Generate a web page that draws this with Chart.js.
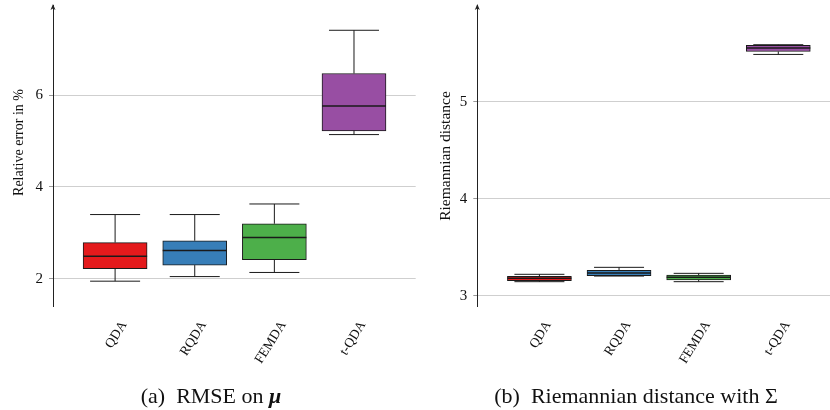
<!DOCTYPE html>
<html>
<head>
<meta charset="utf-8">
<script src="https://cdn.jsdelivr.net/npm/chart.js@4.4.0/dist/chart.umd.min.js"></script>
<style>
  body { margin: 0; width: 830px; height: 410px; overflow: hidden; background: #fff; position: relative; font-family: 'Liberation Serif', serif; }
  .wrap { position: absolute; top: 0; width: 420px; height: 410px; }
  #wrapA { left: 0; }
  #wrapB { left: 420px; }
  .cap { position: absolute; top: 385px; font-size: 22px; line-height: 22px; color: #111; white-space: nowrap; transform: translateX(-50%); }
  .cap .gap { display: inline-block; width: 11px; }
</style>
</head>
<body>
<div class="wrap" id="wrapA"><canvas id="chartA" width="420" height="410"></canvas></div>
<div class="wrap" id="wrapB"><canvas id="chartB" width="420" height="410"></canvas></div>
<div class="cap" style="left:211px">(a)<span class="gap"></span>RMSE on <b><i>μ</i></b></div>
<div class="cap" style="left:636px">(b)<span class="gap"></span>Riemannian distance with Σ</div>

<script>
const categories = ['QDA', 'RQDA', 'FEMDA', 't-QDA'];

// (a) RMSE on mu - relative error in %
const rmseLow  = [1.95, 2.05, 2.14, 5.14];
const rmseQ1   = [2.22, 2.30, 2.42, 5.22];
const rmseMed  = [2.49, 2.62, 2.90, 5.76];
const rmseQ3   = [2.79, 2.83, 3.20, 6.47];
const rmseHigh = [3.40, 3.40, 3.63, 7.41];
const rmseTicks = [2, 4, 6];

// (b) Riemannian distance with Sigma
const riemLow  = [3.145, 3.203, 3.145, 5.49];
const riemQ1   = [3.155, 3.206, 3.162, 5.52];
const riemMed  = [3.18, 3.234, 3.19, 5.555];
const riemQ3   = [3.20, 3.262, 3.213, 5.585];
const riemHigh = [3.221, 3.293, 3.231, 5.59];
const riemTicks = [3, 4, 5];

const boxColors = ['#e41a1c', '#377eb8', '#4daf4a', '#984ea3'];
const serif = "'Liberation Serif', 'Times New Roman', serif";

// whiskers + median on top of the floating bars
const whiskerPlugin = {
    id: 'boxWhiskers',
    afterDatasetsDraw(chart, args, opts) {
        const ctx = chart.ctx;
        const y = chart.scales.y;
        const bars = chart.getDatasetMeta(0).data;
        const line = (x1, y1, x2, y2) => { ctx.beginPath(); ctx.moveTo(x1, y1); ctx.lineTo(x2, y2); ctx.stroke(); };
        ctx.save();
        ctx.strokeStyle = '#1a1a1a';
        bars.forEach((bar, i) => {
            const cx = bar.x;
            const half = bar.width / 2;
            const yLo = y.getPixelForValue(opts.low[i]);
            const yQ1 = y.getPixelForValue(opts.q1[i]);
            const yMed = y.getPixelForValue(opts.med[i]);
            const yQ3 = y.getPixelForValue(opts.q3[i]);
            const yHi = y.getPixelForValue(opts.high[i]);
            ctx.lineWidth = 1;
            line(cx, yQ3, cx, yHi);
            line(cx, yQ1, cx, yLo);
            line(cx - 25, yHi, cx + 25, yHi);
            line(cx - 25, yLo, cx + 25, yLo);
            ctx.lineWidth = 1.5;
            line(cx - half, yMed, cx + half, yMed);
        });
        ctx.restore();
    }
};

// arrow head on the y axis + rotated y title
const axisDeco = {
    id: 'axisDeco',
    afterDraw(chart, args, opts) {
        const ctx = chart.ctx;
        const x = chart.chartArea.left;
        const top = chart.chartArea.top;
        ctx.save();
        ctx.fillStyle = '#222';
        ctx.beginPath();
        ctx.moveTo(x, top - 1);
        ctx.lineTo(x - 2.5, top + 5);
        ctx.lineTo(x, top + 3.5);
        ctx.lineTo(x + 2.5, top + 5);
        ctx.closePath();
        ctx.fill();

        ctx.translate(opts.x, opts.y);
        ctx.rotate(-Math.PI / 2);
        ctx.fillStyle = '#111';
        ctx.font = opts.size + 'px ' + serif;
        ctx.textAlign = 'center';
        ctx.textBaseline = 'middle';
        ctx.fillText(opts.text, 0, 0);
        ctx.restore();
    }
};

function makeChart(id, low, q1, med, q3, high, ticks, yMin, yMax, title, axisWidth, padRight) {
    const ctx = document.getElementById(id).getContext('2d');
    return new Chart(ctx, {
        type: 'bar',
        data: {
            datasets: [{
                data: categories.map((c, i) => ({ x: i + 1, y: [q1[i], q3[i]] })),
                backgroundColor: boxColors,
                borderColor: '#1a1a1a',
                borderWidth: 1,
                borderSkipped: false,
                barThickness: 64
            }]
        },
        options: {
            responsive: false,
            animation: false,
            layout: { padding: { top: 5, right: padRight, left: 0, bottom: 0 } },
            plugins: {
                legend: { display: false },
                tooltip: { enabled: false },
                boxWhiskers: { low: low, q1: q1, med: med, q3: q3, high: high },
                axisDeco: title
            },
            scales: {
                x: {
                    type: 'linear',
                    min: 0.22,
                    max: 4.775,
                    offset: false,
                    grid: { display: false, drawTicks: false },
                    border: { display: false },
                    afterBuildTicks: s => { s.ticks = categories.map((c, i) => ({ value: i + 1 })); },
                    afterFit: s => { s.height = 104; s.paddingLeft = 0; s.paddingRight = 0; },
                    ticks: {
                        autoSkip: false,
                        minRotation: 58,
                        maxRotation: 58,
                        padding: 12,
                        labelOffset: 9,
                        color: '#111',
                        font: { family: serif, size: 13.5 },
                        callback: v => categories[v - 1]
                    }
                },
                y: {
                    min: yMin,
                    max: yMax,
                    afterBuildTicks: s => { s.ticks = ticks.map(v => ({ value: v })); },
                    afterFit: s => { s.width = axisWidth; s.paddingTop = 0; s.paddingBottom = 0; },
                    grid: { color: '#cfcfcf', tickColor: '#999', tickLength: 4 },
                    border: { color: '#222', width: 1 },
                    ticks: { padding: 6, color: '#111', font: { family: serif, size: 15 } }
                }
            }
        },
        plugins: [whiskerPlugin, axisDeco]
    });
}

makeChart('chartA', rmseLow, rmseQ1, rmseMed, rmseQ3, rmseHigh, rmseTicks, 1.41, 7.96,
    { text: 'Relative error in %', size: 14, x: 19.3, y: 142.5 }, 53, 4.3);
makeChart('chartB', riemLow, riemQ1, riemMed, riemQ3, riemHigh, riemTicks, 2.894, 6.0,
    { text: 'Riemannian distance', size: 15.5, x: 25.8, y: 156 }, 57.3, 0);
</script>
</body>
</html>
